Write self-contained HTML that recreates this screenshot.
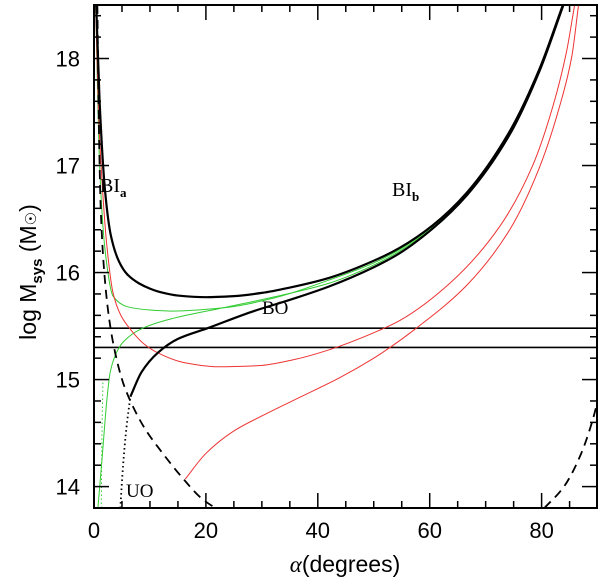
<!DOCTYPE html>
<html><head><meta charset="utf-8"><style>
body{margin:0;background:#fff}
svg{display:block;font-family:"Liberation Sans",sans-serif}
</style></head><body>
<svg id="chart" width="600" height="581" viewBox="0 0 600 581">
<g id="marks"></g>
<g id="axes"></g>
<text x="100" y="192" font-family="Liberation Serif,serif" font-size="20">BI<tspan font-size="13" dy="5" font-weight="bold">a</tspan></text>
<text x="392" y="196" font-family="Liberation Serif,serif" font-size="20">BI<tspan font-size="13" dy="5" font-weight="bold">b</tspan></text>
<text x="262" y="314" font-family="Liberation Serif,serif" font-size="19">BO</text>
<text x="126" y="497" font-family="Liberation Serif,serif" font-size="19">UO</text>
<text x="345" y="572" text-anchor="middle" font-size="23"><tspan font-family="Liberation Serif,serif" font-style="italic">α</tspan>(degrees)</text>
<text transform="translate(36,272) rotate(-90)" text-anchor="middle" font-size="23">log  M<tspan font-size="15" dy="6" font-weight="bold">sys</tspan><tspan dy="-6">  (M</tspan><tspan font-size="15">☉</tspan>)</text>
</svg>
<script>
const xTicks=[0,20,40,60,80];
const yTicks=[14,15,16,17,18];
const hLines=[15.48,15.30];
const blackMain=[[0.4,18.5],[1,17.6],[2,16.75],[3,16.35],[4.5,16.1],[6,15.98],[8,15.9],[10,15.85],[12,15.815],[15,15.785],[20,15.77],[25,15.78],[30,15.81],[35,15.86],[42,15.95],[50,16.11],[54.6,16.23],[60.5,16.44],[66.6,16.745],[74.3,17.32],[79.6,17.9],[83.8,18.5]];
const blackBO=[[6.5,14.84],[8.5,15.07],[11.4,15.25],[15,15.38],[20.3,15.48],[28,15.63],[35.3,15.75],[42,15.87],[50,16.05],[54.6,16.18],[60.5,16.41],[66.6,16.72],[74.3,17.29],[79.6,17.88],[83.9,18.5]];
const greenUpper=[[0.3,18.5],[1,17],[2,16.2],[3.4,15.78],[6,15.68],[10,15.65],[14,15.64],[23,15.67],[32,15.76],[42,15.93],[50,16.09],[54.6,16.215],[60.5,16.43],[66.6,16.735],[74.3,17.31],[79.6,17.89],[83.85,18.5]];
const greenLower=[[0.7,13.8],[1.5,14.3],[2.3,14.81],[2.9,15.07],[4,15.25],[5.2,15.35],[8.3,15.47],[14,15.57],[23,15.67],[32,15.77],[42,15.9],[50,16.07],[54.6,16.2],[60.5,16.42],[66.6,16.73],[74.3,17.3],[79.6,17.885],[83.85,18.5]];
const greenDotted=[[1.3,13.8],[1.4,14.4],[1.6,15.0]];
const redUpper=[[0.3,18.5],[0.8,17.5],[1.5,16.8],[2.3,16.25],[3.4,15.81],[4.8,15.6],[6.5,15.47],[9,15.33],[11.4,15.25],[16,15.16],[22.2,15.12],[29.4,15.13],[36,15.19],[42.7,15.29],[51,15.46],[54.6,15.55],[63.6,15.9],[72.5,16.43],[78.4,17.0],[82,17.55],[84.4,18.05],[85.9,18.5]];
const redLower=[[16.3,14.07],[20,14.31],[25,14.52],[30,14.66],[37,14.84],[44,15.02],[50,15.2],[52.9,15.3],[57.6,15.48],[66.6,15.88],[74.3,16.4],[79.6,16.98],[83.2,17.55],[85.4,18.02],[86.6,18.5]];
const dashedLeft=[[0.6,18.5],[0.9,17.3],[1.2,16.6],[2,15.9],[2.9,15.5],[4,15.2],[5.2,14.97],[6.5,14.8],[9,14.55],[12,14.33],[16,14.07],[19,13.9],[22.2,13.78]];
const dashedRight=[[80.5,13.8],[84,14.0],[87,14.3],[89,14.6],[90.5,14.9]];
const dottedUO=[[4.7,13.8],[5.2,14.2],[5.8,14.55],[6.5,14.84]];
const X0=94,X1=597,Y0=5,Y1=508,xmin=0,xmax=89.9,ymin=13.8,ymax=18.5;
const sx=v=>X0+(v-xmin)/(xmax-xmin)*(X1-X0);
const sy=v=>Y1-(v-ymin)/(ymax-ymin)*(Y1-Y0);
const NS="http://www.w3.org/2000/svg";
const marks=document.getElementById('marks'),axes=document.getElementById('axes');
function mk(tag,attrs,parent){const e=document.createElementNS(NS,tag);for(const k in attrs)e.setAttribute(k,attrs[k]);parent.appendChild(e);return e;}
function pathD(data){const p=data.map(d=>[sx(d[0]),sy(d[1])]);const n=p.length;
const dl=[];for(let i=0;i<n-1;i++)dl.push((p[i+1][1]-p[i][1])/(p[i+1][0]-p[i][0]));
const m=[];for(let i=0;i<n;i++){if(i===0)m.push(dl[0]);else if(i===n-1)m.push(dl[n-2]);
else{const a=dl[i-1],b=dl[i];if(a*b<=0)m.push(0);else{const h0=p[i][0]-p[i-1][0],h1=p[i+1][0]-p[i][0],w1=2*h1+h0,w2=h1+2*h0;m.push((w1+w2)/(w1/a+w2/b));}}}
let d='M'+p[0][0]+','+p[0][1];
for(let i=0;i<n-1;i++){const h=(p[i+1][0]-p[i][0])/3;
d+=' C'+(p[i][0]+h)+','+(p[i][1]+m[i]*h)+' '+(p[i+1][0]-h)+','+(p[i+1][1]-m[i+1]*h)+' '+p[i+1][0]+','+p[i+1][1];}return d;}
const defs=mk('defs',{},marks);const cp=mk('clipPath',{id:'clip'},defs);mk('rect',{x:X0,y:Y0,width:X1-X0,height:Y1-Y0},cp);
const g=mk('g',{'clip-path':'url(#clip)'},marks);
function curve(data,name,stroke,w,dash){const e=mk('path',{d:pathD(data),fill:'none',stroke:stroke,'stroke-width':w},g);if(dash)e.setAttribute('stroke-dasharray',dash);

}
hLines.forEach(v=>{const l=mk('line',{x1:X0,x2:X1,y1:sy(v),y2:sy(v),stroke:'#000','stroke-width':1.6},g);

});
curve(greenUpper,'green-curve-upper','#3c3',1);
curve(greenLower,'green-curve-lower','#3c3',1);
curve(greenDotted,'green-dotted-curve','#3c3',1,'1.5,2.5');
curve(redUpper,'red-curve-upper','#e33',1);
curve(redLower,'red-curve-lower','#e33',1);
curve(blackMain,'bi-curve','#000',2.2);
curve(blackBO,'bo-curve','#000',2.2);
curve(dashedLeft,'dashed-curve-left','#000',1.8,'9,6');
curve(dashedRight,'dashed-curve-right','#000',1.8,'9,6');
curve(dottedUO,'uo-dotted-curve','#000',1.8,'1.5,3');
const fr=mk('rect',{x:X0,y:Y0,width:X1-X0,height:Y1-Y0,fill:'none',stroke:'#000','stroke-width':2},axes);


for(let v=0;v<=90;v+=5){const maj=v%20===0,L=maj?15:7,x=sx(v);if(x>X1)continue;
mk('line',{x1:x,x2:x,y1:Y1,y2:Y1-L,stroke:'#000','stroke-width':1.5},axes);
mk('line',{x1:x,x2:x,y1:Y0,y2:Y0+L,stroke:'#000','stroke-width':1.5},axes);}
for(let i=0;i<=23;i++){const v=13.8+i*0.2,maj=Math.abs(v-Math.round(v))<1e-6,L=maj?15:7,y=sy(v);
mk('line',{x1:X0,x2:X0+L,y1:y,y2:y,stroke:'#000','stroke-width':1.5},axes);
mk('line',{x1:X1,x2:X1-L,y1:y,y2:y,stroke:'#000','stroke-width':1.5},axes);}
xTicks.forEach(v=>{const t=mk('text',{x:sx(v),y:538,'text-anchor':'middle','font-size':22},axes);t.textContent=v;

});
yTicks.forEach(v=>{const t=mk('text',{x:80,y:sy(v)+8,'text-anchor':'end','font-size':22},axes);t.textContent=v;

});
</script>
</body></html>
